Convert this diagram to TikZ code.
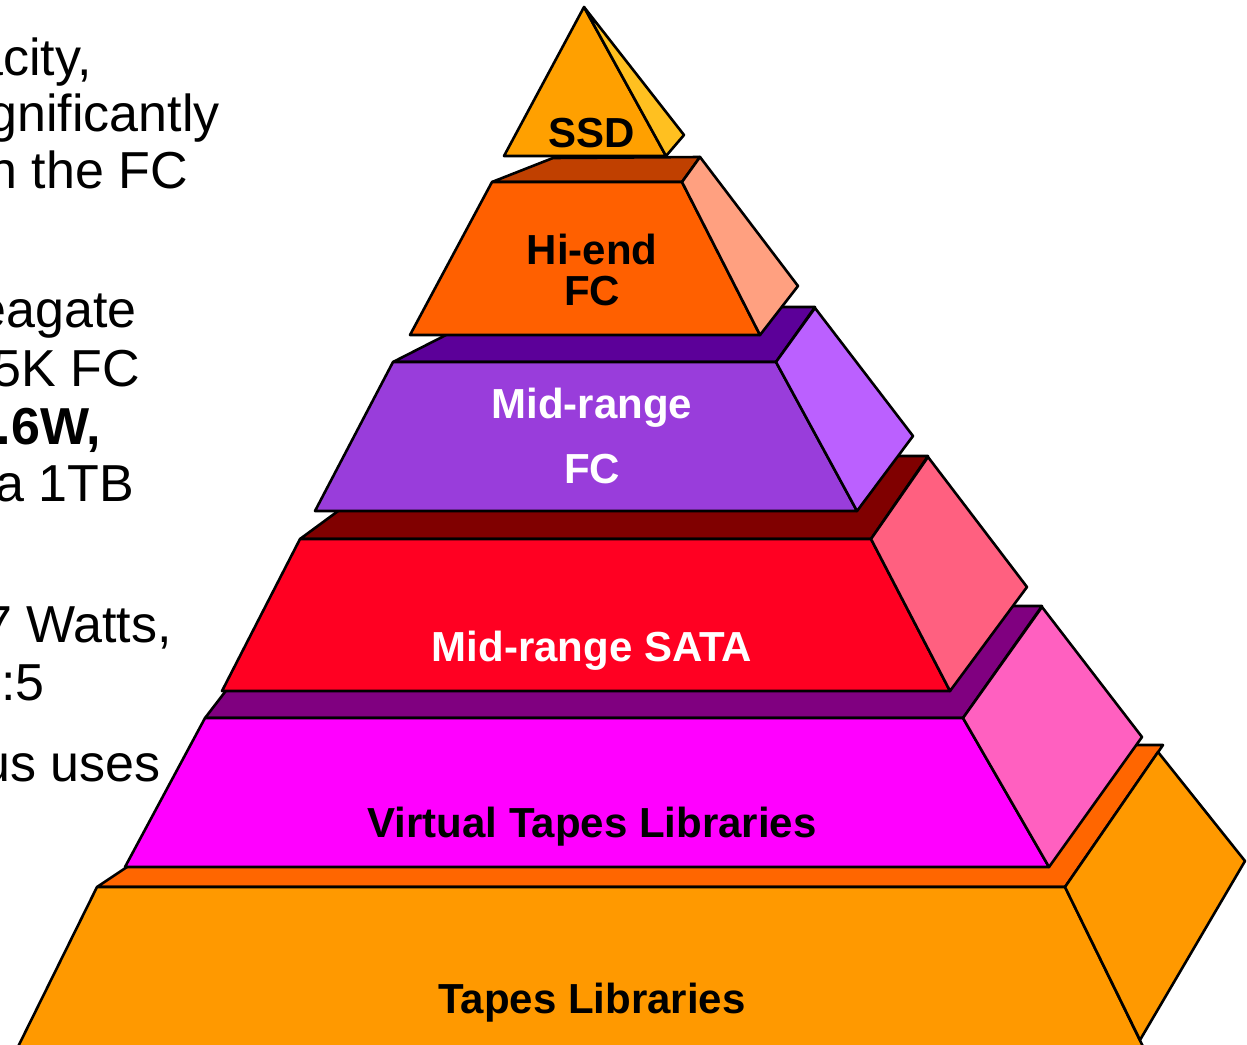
\documentclass[tikz,border=0pt]{standalone}
\usepackage{fontspec}
\setmainfont{Liberation Sans}
\definecolor{ssdF}{HTML}{FFA000}
\definecolor{ssdS}{HTML}{FFC020}
\definecolor{heT}{HTML}{C04000}
\definecolor{heF}{HTML}{FF6000}
\definecolor{heS}{HTML}{FFA080}
\definecolor{mfT}{HTML}{5C0099}
\definecolor{mfF}{HTML}{993DDB}
\definecolor{mfS}{HTML}{BB60FF}
\definecolor{saT}{HTML}{800000}
\definecolor{saF}{HTML}{FF0022}
\definecolor{saS}{HTML}{FF6080}
\definecolor{vtT}{HTML}{800080}
\definecolor{vtF}{HTML}{FF00FF}
\definecolor{vtS}{HTML}{FF60C0}
\definecolor{tpT}{HTML}{FF6600}
\definecolor{tpF}{HTML}{FF9900}
\definecolor{tpS}{HTML}{FF9900}
\begin{document}
\begin{tikzpicture}[x=1pt,y=-1pt,
  facepoly/.style={draw=black,line width=2.6pt,line join=round},
  lbl/.style={font=\fontsize{42}{42}\selectfont\bfseries,inner sep=0pt,anchor=base},
  lefttext/.style={font=\fontsize{52}{52}\selectfont,inner sep=0pt,anchor=base east,text=black}]
\useasboundingbox (0,0) rectangle (1247,1044);
\clip (0,0) rectangle (1247,1044);
% Tapes Libraries tier
\filldraw[facepoly,fill=tpT] (97,887) -- (310,745) -- (1163,745) -- (1065,887) -- cycle;
\filldraw[facepoly,fill=tpF] (97,887) -- (1065,887) -- (1152,1065) -- (9,1065) -- cycle;
\filldraw[facepoly,fill=tpS] (1065,887) -- (1158,752) -- (1245,861) -- (1140,1040) -- cycle;
% Virtual Tapes Libraries tier
\filldraw[facepoly,fill=vtT] (205,718) -- (291,606) -- (1042,606) -- (963,718) -- cycle;
\filldraw[facepoly,fill=vtF] (205,718) -- (963,718) -- (1049,867) -- (125,867) -- cycle;
\filldraw[facepoly,fill=vtS] (963,718) -- (1042,607) -- (1142,737) -- (1049,867) -- cycle;
% Mid-range SATA tier
\filldraw[facepoly,fill=saT] (300,539) -- (413,456) -- (928,456) -- (871,539) -- cycle;
\filldraw[facepoly,fill=saF] (300,539) -- (871,539) -- (950,691) -- (222,691) -- cycle;
\filldraw[facepoly,fill=saS] (871,539) -- (928,457) -- (1027,587) -- (950,691) -- cycle;
% Mid-range FC tier
\filldraw[facepoly,fill=mfT] (393,362) -- (501,307) -- (815,307) -- (776,362) -- cycle;
\filldraw[facepoly,fill=mfF] (393,362) -- (776,362) -- (857,511) -- (315,511) -- cycle;
\filldraw[facepoly,fill=mfS] (776,362) -- (815,308) -- (913,436) -- (857,511) -- cycle;
% Hi-end FC tier
\filldraw[facepoly,fill=heT] (492,182) -- (553,158) -- (700,157) -- (682,182) -- cycle;
\filldraw[facepoly,fill=heF] (492,182) -- (682,182) -- (760,335) -- (410,335) -- cycle;
\filldraw[facepoly,fill=heS] (682,182) -- (700,157) -- (798,286) -- (760,335) -- cycle;
% SSD tier
\filldraw[facepoly,fill=ssdF] (504,156) -- (584,7) -- (666,156) -- cycle;
\filldraw[facepoly,fill=ssdS] (584,7) -- (684,135) -- (666,156) -- cycle;
% pyramid labels
\node[lbl] (ssd) at (592,147) {SSD};
\node[lbl] (hiend1) at (592,264) {Hi-end};
\node[lbl] (hiend2) at (592,305) {FC};
\node[lbl,text=white] (midfc1) at (592,418) {Mid-range};
\node[lbl,text=white] (midfc2) at (592,483) {FC};
\node[lbl,text=white] (sata) at (592,661) {Mid-range SATA};
\node[lbl] (vtl) at (592,837) {Virtual Tapes Libraries};
\node[lbl] (tapes) at (592,1013) {Tapes Libraries};
% left text (cut by the picture's edge, as in the reference)
\node[lefttext] (l1) at (92,75) {capacity,};
\node[lefttext] (l2) at (220,131) {significantly};
\node[lefttext] (l3) at (188,188) {than the FC};
\node[lefttext] (l4) at (137,327) {Seagate};
\node[lefttext] (l5) at (140,386) {15K FC};
\node[lefttext,font=\fontsize{52}{52}\selectfont\bfseries] (l6) at (101,444) {17.6W,};
\node[lefttext] (l7) at (134,501) {a 1TB};
\node[lefttext] (l8) at (172,642) {7 Watts,};
\node[lefttext] (l9) at (45,700) {1:5};
\node[lefttext] (l10) at (161,781) {thus uses};
\end{tikzpicture}
\end{document}
